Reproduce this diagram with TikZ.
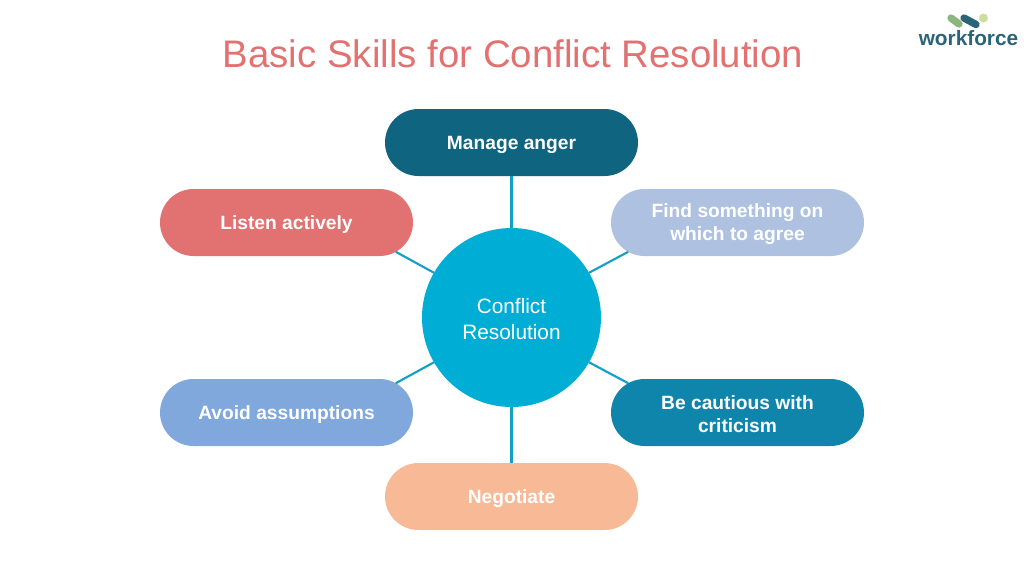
\documentclass[tikz,border=0pt]{standalone}
\usepackage{fontspec}
\setmainfont{Liberation Sans}
\usetikzlibrary{shapes.misc}
\definecolor{hubblue}{HTML}{00AED5}
\definecolor{spokeblue}{HTML}{12A0C4}
\definecolor{angerteal}{HTML}{0F6480}
\definecolor{listenred}{HTML}{E27171}
\definecolor{agreeblue}{HTML}{AEC1E0}
\definecolor{avoidblue}{HTML}{80A8DD}
\definecolor{cautionteal}{HTML}{1085AB}
\definecolor{talkpeach}{HTML}{F7B996}
\definecolor{logoteal}{HTML}{2A6478}
\definecolor{logogreen}{HTML}{8DB57E}
\definecolor{logolime}{HTML}{CFDD9C}
\newcommand{\skillnode}[5] {
    \node[skill,fill={#4}] (#1) at ({#2}, {#3}) {};
    \node[skilltext] (#1text) at ({#2}, {#3+2}) {#5};
}
\tikzset{
    skill/.style={
        rounded rectangle,
        minimum width=189.75pt,
        minimum height=50.25pt,
        inner sep=0pt,
        outer sep=0pt
    },
    skilltext/.style={
        align=center,
        text=white,
        font=\fontsize{14.4}{17.25}\selectfont\bfseries
    },
    spoke/.style={spokeblue,line width=1.6pt},
    x=0.75pt,
    y=-0.75pt
}
\begin{document}
\begin{tikzpicture}
    \useasboundingbox (0,0) rectangle (1024,576);
    \node[text=listenred,font=\fontsize{28.8}{32}\selectfont] (title) at (513,54) {Basic Skills for Conflict Resolution};
    \node[circle,fill=hubblue,minimum size=134.25pt,inner sep=0pt,outer sep=0pt] (hub) at (511.5,317.5) {};
    \node[align=center,text=white,font=\fontsize{15.6}{19.5}\selectfont] (hubtext) at (511.5,319.5) {Conflict\\Resolution};
    \skillnode{anger}{511.5}{142.5}{angerteal}{Manage anger}
    \skillnode{listen}{286.5}{222.5}{listenred}{Listen actively}
    \skillnode{agree}{737.5}{222.5}{agreeblue}{Find something on\\which to agree}
    \skillnode{avoid}{286.5}{412.5}{avoidblue}{Avoid assumptions}
    \skillnode{caution}{737.5}{412.5}{cautionteal}{Be cautious with\\criticism}
    \skillnode{talk}{511.5}{496.5}{talkpeach}{Negotiate}
    % spokes
    \draw[spoke] (hub.90) -- (anger.-90);
    \draw[spoke] (hub.150) -- (listen.-15);
    \draw[spoke] (hub.30) -- (agree.195);
    \draw[spoke] (hub.210) -- (avoid.15);
    \draw[spoke] (hub.-30) -- (caution.165);
    \draw[spoke] (hub.-90) -- (talk.90);
    % logo
    \node[text=logoteal,font=\fontsize{15.6}{16}\selectfont\bfseries] (logo) at (968.5,38) {workforce};
    \draw[logogreen,line width=5.5pt,line cap=round] (951,18) -- (959,24);
    \draw[logoteal,line width=5.5pt,line cap=round] (964,18) -- (976,24.5);
    \fill[logolime] (983.5,18) circle (4.5);
\end{tikzpicture}
\end{document}
